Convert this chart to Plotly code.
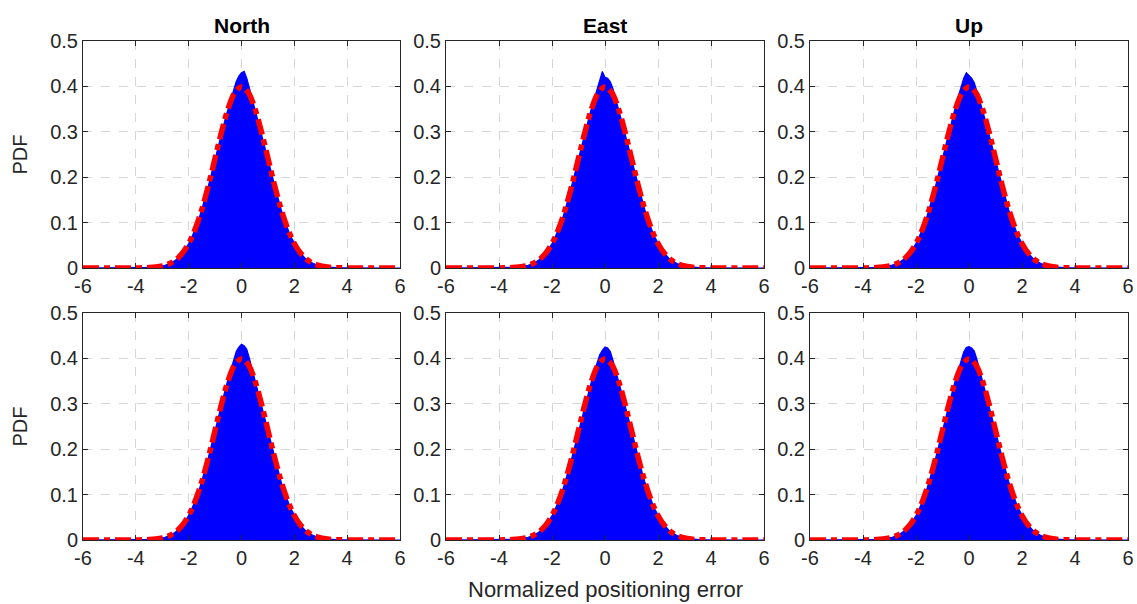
import numpy as np
import plotly.graph_objects as go

titles = ["North", "East", "Up"]
x_ticks = [-6, -4, -2, 0, 2, 4, 6]
x_tick_labels = ["-6", "-4", "-2", "0", "2", "4", "6"]
y_ticks = [0, 0.1, 0.2, 0.3, 0.4, 0.5]
y_tick_labels = ["0", "0.1", "0.2", "0.3", "0.4", "0.5"]

# histogram bin centres run from -4.0 to 4.0 in steps of 0.1
hist_start, hist_step = -4.0, 0.1
hist_range = [-6, 6]

north_top = [0.0001,0.0002,0.0003,0.0004,0.0006,0.0009,0.0013,0.0018,0.0025,0.0034,
             0.0045,0.0061,0.0079,0.0103,0.0135,0.0173,0.0221,0.0279,0.0348,0.0437,
             0.0538,0.0655,0.0788,0.0938,0.1105,0.1288,0.1495,0.1705,0.1935,0.2170,
             0.2415,0.2650,0.2885,0.3110,0.3325,0.3520,0.3715,0.3920,0.4110,0.4230,
             0.4300,0.4330,0.4180,0.3960,0.3740,0.3530,0.3320,0.3110,0.2890,0.2650,
             0.2420,0.2180,0.1945,0.1710,0.1495,0.1290,0.1110,0.0942,0.0790,0.0660,
             0.0542,0.0441,0.0352,0.0280,0.0221,0.0174,0.0136,0.0104,0.0080,0.0060,
             0.0045,0.0034,0.0025,0.0018,0.0013,0.0009,0.0006,0.0004,0.0003,0.0002,0.0001]
east_top = [0.0001,0.0002,0.0003,0.0004,0.0006,0.0009,0.0013,0.0018,0.0025,0.0034,
            0.0045,0.0060,0.0080,0.0104,0.0136,0.0175,0.0222,0.0280,0.0350,0.0438,
            0.0540,0.0652,0.0790,0.0940,0.1100,0.1290,0.1490,0.1710,0.1940,0.2175,
            0.2420,0.2660,0.2890,0.3120,0.3330,0.3540,0.3740,0.3950,0.4120,0.4330,
            0.4200,0.4180,0.4100,0.3950,0.3740,0.3530,0.3320,0.3110,0.2890,0.2650,
            0.2420,0.2180,0.1945,0.1710,0.1495,0.1290,0.1110,0.0942,0.0790,0.0660,
            0.0542,0.0441,0.0352,0.0280,0.0221,0.0174,0.0136,0.0104,0.0080,0.0060,
            0.0045,0.0034,0.0025,0.0018,0.0013,0.0009,0.0006,0.0004,0.0003,0.0002,0.0001]
up_top = [0.0001,0.0002,0.0003,0.0004,0.0006,0.0009,0.0013,0.0018,0.0025,0.0034,
          0.0046,0.0062,0.0081,0.0105,0.0137,0.0176,0.0224,0.0283,0.0352,0.0440,
          0.0545,0.0660,0.0795,0.0945,0.1110,0.1300,0.1505,0.1720,0.1950,0.2190,
          0.2440,0.2680,0.2920,0.3150,0.3370,0.3580,0.3790,0.3990,0.4180,0.4300,
          0.4250,0.4180,0.4080,0.3900,0.3700,0.3500,0.3290,0.3080,0.2860,0.2630,
          0.2400,0.2160,0.1930,0.1700,0.1485,0.1280,0.1100,0.0935,0.0785,0.0655,
          0.0538,0.0438,0.0350,0.0278,0.0220,0.0173,0.0135,0.0103,0.0079,0.0060,
          0.0045,0.0034,0.0025,0.0018,0.0013,0.0009,0.0006,0.0004,0.0003,0.0002,0.0001]
north_bottom = [0.0001,0.0002,0.0003,0.0004,0.0006,0.0009,0.0013,0.0018,0.0025,0.0034,
                0.0045,0.0061,0.0080,0.0104,0.0136,0.0175,0.0223,0.0282,0.0352,0.0440,
                0.0542,0.0660,0.0795,0.0945,0.1110,0.1295,0.1500,0.1715,0.1945,0.2185,
                0.2430,0.2670,0.2905,0.3135,0.3350,0.3560,0.3770,0.3970,0.4150,0.4250,
                0.4310,0.4280,0.4200,0.4000,0.3770,0.3550,0.3330,0.3110,0.2880,0.2640,
                0.2410,0.2170,0.1935,0.1705,0.1490,0.1285,0.1105,0.0938,0.0787,0.0658,
                0.0540,0.0440,0.0351,0.0279,0.0220,0.0173,0.0135,0.0103,0.0079,0.0060,
                0.0045,0.0034,0.0025,0.0018,0.0013,0.0009,0.0006,0.0004,0.0003,0.0002,0.0001]
east_bottom = [0.0001,0.0002,0.0003,0.0004,0.0006,0.0009,0.0013,0.0018,0.0025,0.0034,
               0.0045,0.0060,0.0079,0.0103,0.0135,0.0173,0.0221,0.0279,0.0348,0.0436,
               0.0536,0.0652,0.0785,0.0935,0.1100,0.1285,0.1490,0.1700,0.1930,0.2165,
               0.2410,0.2645,0.2880,0.3105,0.3320,0.3520,0.3720,0.3910,0.4080,0.4180,
               0.4250,0.4230,0.4150,0.3960,0.3750,0.3540,0.3330,0.3110,0.2890,0.2650,
               0.2420,0.2180,0.1945,0.1710,0.1495,0.1290,0.1110,0.0942,0.0790,0.0660,
               0.0542,0.0441,0.0352,0.0280,0.0221,0.0174,0.0136,0.0104,0.0080,0.0060,
               0.0045,0.0034,0.0025,0.0018,0.0013,0.0009,0.0006,0.0004,0.0003,0.0002,0.0001]
up_bottom = [0.0001,0.0002,0.0003,0.0004,0.0006,0.0009,0.0013,0.0018,0.0025,0.0034,
             0.0045,0.0061,0.0080,0.0104,0.0136,0.0175,0.0222,0.0281,0.0350,0.0438,
             0.0540,0.0656,0.0790,0.0940,0.1105,0.1290,0.1495,0.1710,0.1940,0.2180,
             0.2425,0.2665,0.2900,0.3130,0.3345,0.3550,0.3760,0.3960,0.4140,0.4240,
             0.4260,0.4230,0.4160,0.3980,0.3760,0.3540,0.3320,0.3100,0.2880,0.2640,
             0.2410,0.2170,0.1935,0.1705,0.1490,0.1285,0.1105,0.0938,0.0787,0.0658,
             0.0540,0.0440,0.0351,0.0279,0.0220,0.0173,0.0135,0.0103,0.0079,0.0060,
             0.0045,0.0034,0.0025,0.0018,0.0013,0.0009,0.0006,0.0004,0.0003,0.0002,0.0001]

# reference normal curve read at 0.25 steps from -6 to 6
curve_x = [-6.0,-5.75,-5.5,-5.25,-5.0,-4.75,-4.5,-4.25,-4.0,-3.75,-3.5,-3.25,-3.0,-2.75,-2.5,-2.25,
           -2.0,-1.75,-1.5,-1.25,-1.0,-0.75,-0.5,-0.25,0.0,0.25,0.5,0.75,1.0,1.25,1.5,1.75,
           2.0,2.25,2.5,2.75,3.0,3.25,3.5,3.75,4.0,4.25,4.5,4.75,5.0,5.25,5.5,5.75,6.0]
curve_y = [0,0,0,0,0,0,0,0,0.0001,0.0004,0.0009,0.0020,0.0044,0.0091,0.0175,0.0317,
           0.0540,0.0863,0.1295,0.1826,0.2420,0.3011,0.3521,0.3867,0.3989,0.3867,0.3521,0.3011,0.2420,0.1826,0.1295,0.0863,
           0.0540,0.0317,0.0175,0.0091,0.0044,0.0020,0.0009,0.0004,0.0001,0,0,0,0,0,0,0,0]

panels = [[north_top, east_top, up_top], [north_bottom, east_bottom, up_bottom]]

W, H = 1137, 604
col_px = [(83, 400), (446, 764), (810, 1128)]
row_px = [(41, 268), (313, 540)]

fig = go.Figure()
text_col = "#262626"
font_fam = "Liberation Sans, Arial, Helvetica, sans-serif"

for r in range(2):
    for c in range(3):
        k = r * 3 + c + 1
        xa = "x" if k == 1 else f"x{k}"
        ya = "y" if k == 1 else f"y{k}"
        vals = panels[r][c]
        hx = [hist_range[0]] + [round(hist_start + i * hist_step, 2) for i in range(len(vals))] + [hist_range[1]]
        hy = [0] + list(vals) + [0]
        fig.add_trace(go.Scatter(x=hx, y=hy, mode="lines", fill="tozeroy",
                                 fillcolor="#0000ff", line=dict(color="#0000ff", width=1.2),
                                 xaxis=xa, yaxis=ya, showlegend=False, hoverinfo="skip"))
        fig.add_trace(go.Scatter(x=curve_x, y=curve_y, mode="lines", line_shape="spline",
                                 line=dict(color="#ff0000", width=5.5, dash="16px,5px,6px,5px"),
                                 xaxis=xa, yaxis=ya, showlegend=False, hoverinfo="skip"))
        x0, x1 = col_px[c]
        y0, y1 = row_px[r]
        common = dict(showline=True, linecolor=text_col, linewidth=1, mirror="ticks",
                      ticks="inside", ticklen=5, tickcolor=text_col, automargin=False,
                      showgrid=True, gridcolor="#d6d6d6", griddash="dash", gridwidth=1,
                      zeroline=False, tickfont=dict(family=font_fam, size=20, color=text_col))
        fig.layout[("xaxis" if k == 1 else f"xaxis{k}")] = dict(
            domain=[x0 / W, x1 / W], range=[-6, 6], anchor=ya,
            tickvals=x_ticks, ticktext=x_tick_labels, **common)
        fig.layout[("yaxis" if k == 1 else f"yaxis{k}")] = dict(
            domain=[1 - y1 / H, 1 - y0 / H], range=[0, 0.5], anchor=xa,
            tickvals=y_ticks, ticktext=y_tick_labels, **common)

annotations = []
for c, t in enumerate(titles):
    x0, x1 = col_px[c]
    annotations.append(dict(text=f"<b>{t}</b>", x=(x0 + x1) / 2 / W, y=1 - 25 / H,
                            xref="paper", yref="paper", showarrow=False,
                            font=dict(family=font_fam, size=21, color="#000000"),
                            xanchor="center", yanchor="middle"))
for r in range(2):
    y0, y1 = row_px[r]
    annotations.append(dict(text="PDF", x=19 / W, y=1 - (y0 + y1) / 2 / H,
                            xref="paper", yref="paper", showarrow=False, textangle=-90,
                            font=dict(family=font_fam, size=20, color=text_col),
                            xanchor="center", yanchor="middle"))
annotations.append(dict(text="Normalized positioning error", x=(446 + 764) / 2 / W, y=1 - 589 / H,
                        xref="paper", yref="paper", showarrow=False,
                        font=dict(family=font_fam, size=22, color=text_col),
                        xanchor="center", yanchor="middle"))

fig.update_layout(width=W, height=H, margin=dict(l=0, r=0, t=0, b=0, autoexpand=False),
                  paper_bgcolor="white", plot_bgcolor="white",
                  annotations=annotations, showlegend=False)

fig.write_html("out.html")

# remove the browser's default page margin so the figure sits at the window origin
with open("out.html", "r", encoding="utf-8") as f:
    html = f.read()
html = html.replace("<head>", "<head><style>html,body{margin:0;padding:0;overflow:hidden;}</style>", 1)
with open("out.html", "w", encoding="utf-8") as f:
    f.write(html)
